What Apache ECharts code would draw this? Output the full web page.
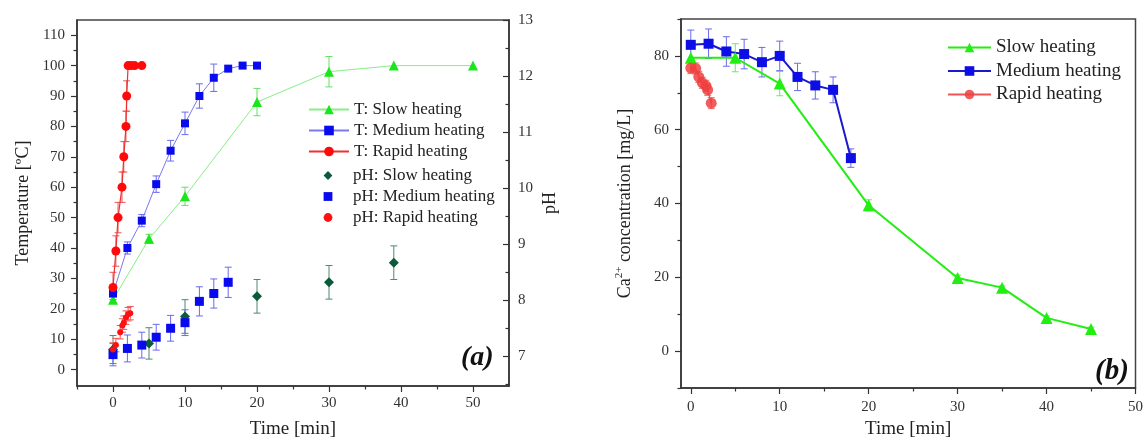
<!DOCTYPE html>
<html>
<head>
<meta charset="utf-8">
<script src="https://cdn.jsdelivr.net/npm/echarts@6/dist/echarts.min.js"></script>
<style>
  html, body { margin: 0; background: #fff; }
  #main { width: 1146px; height: 444px; }
</style>
</head>
<body>
<div id="main"></div>
<script>
// (a) temperature vs time
const tSlowX = [0, 5, 10, 20, 30, 39, 50];
const tSlowY = [23, 43, 57, 88, 98, 100, 100];
const tSlowErr = [0, 1.5, 3, 4.5, 5, 0, 0];
const tMedX = [0, 2, 4, 6, 8, 10, 12, 14, 16, 18, 20];
const tMedY = [25, 40, 49, 61, 72, 81, 90, 96, 99, 100, 100];
const tMedErr = [2, 2, 2, 2.7, 3.4, 3.7, 4, 4.5, 0, 0, 0];
const tRapX = [0, 0.4, 0.7, 1.25, 1.5, 1.8, 1.9, 2.1, 2.5, 3.0, 4.0];
const tRapY = [27, 39, 50, 60, 70, 80, 90, 100, 100, 100, 100];
const tRapErr = [5, 5, 5, 5, 5, 5, 5, 0, 0, 0, 0];

// (a) pH vs time
const phSlowX = [0, 5, 10, 20, 30, 39];
const phSlowY = [7.12, 7.23, 7.71, 8.07, 8.32, 8.67];
const phSlowErr = [0.25, 0.28, 0.3, 0.3, 0.3, 0.3];
const phMedX = [0, 2, 4, 6, 8, 10, 12, 14, 16];
const phMedY = [7.03, 7.14, 7.2, 7.34, 7.5, 7.6, 7.98, 8.12, 8.32];
const phMedErr = [0.2, 0.24, 0.23, 0.23, 0.23, 0.23, 0.26, 0.26, 0.27];
const phRapX = [0, 0.4, 1.0, 1.3, 1.5, 1.8, 2.1, 2.4];
const phRapY = [7.12, 7.2, 7.43, 7.55, 7.6, 7.69, 7.75, 7.77];
const phRapErr = [0.12, 0.12, 0.12, 0.12, 0.12, 0.12, 0.12, 0.12];

// (b) Ca2+ vs time
const caSlowX = [0, 5, 10, 20, 30, 35, 40, 45];
const caSlowY = [79.5, 79.5, 72.5, 39.5, 19.8, 17.2, 9, 6];
const caSlowErr = [0, 3.8, 3.3, 1.5, 0.8, 0.5, 0.5, 0.5];
const caMedX = [0, 2, 4, 6, 8, 10, 12, 14, 16, 18];
const caMedY = [83, 83.3, 81.2, 80.5, 78.3, 80, 74.3, 72, 70.8, 52.3];
const caMedErr = [4, 4, 4, 4, 4, 4, 3.7, 3.7, 3.5, 2.5];
const caRapX = [0, 0.55, 0.9, 1.3, 1.7, 1.9, 2.3];
const caRapY = [76.7, 76.6, 74.3, 72.7, 71.9, 70.8, 67.2];
const caRapErr = [1.5, 1.5, 1.5, 1.5, 1.5, 1.5, 1.5];

// ticks
const timeTicksA = [0, 10, 20, 30, 40, 50];
const timeMinorA = [-5, 5, 15, 25, 35, 45];
const tempTicks = [0, 10, 20, 30, 40, 50, 60, 70, 80, 90, 100, 110];
const tempMinor = [5, 15, 25, 35, 45, 55, 65, 75, 85, 95, 105];
const phTicks = [7, 8, 9, 10, 11, 12, 13];
const phMinor = [6.5, 7.5, 8.5, 9.5, 10.5, 11.5, 12.5];
const timeTicksB = [0, 10, 20, 30, 40, 50];
const timeMinorB = [5, 15, 25, 35, 45];
const caTicks = [0, 20, 40, 60, 80];
const caMinor = [-10, 10, 30, 50, 70, 90];

const FONT = '"Liberation Serif", "Times New Roman", serif';
const AX = '#333';

function pairs(xs, ys) { return xs.map((x, i) => [x, ys[i]]); }
function errs(xs, ys, es) {
  return xs.map((x, i) => [x, ys[i] - es[i], ys[i] + es[i]]).filter((d, i) => es[i] > 0);
}

function errorBars(data, color, xi, yi) {
  return {
    type: 'custom', xAxisIndex: xi, yAxisIndex: yi, silent: true, z: 1,
    encode: { x: 0, y: [1, 2] },
    data: data,
    renderItem: function (params, api) {
      const top = api.coord([api.value(0), api.value(2)]);
      const bot = api.coord([api.value(0), api.value(1)]);
      const w = 3.5;
      const st = { stroke: color, lineWidth: 1 };
      return {
        type: 'group', children: [
          { type: 'line', shape: { x1: top[0], y1: top[1], x2: bot[0], y2: bot[1] }, style: st },
          { type: 'line', shape: { x1: top[0] - w, y1: top[1], x2: top[0] + w, y2: top[1] }, style: st },
          { type: 'line', shape: { x1: bot[0] - w, y1: bot[1], x2: bot[0] + w, y2: bot[1] }, style: st }
        ]
      };
    }
  };
}

function majorAxis(grid, min, max, ticks, pos, extra) {
  return Object.assign({
    gridIndex: grid, type: 'value', min: min, max: max, position: pos,
    axisLine: { show: true, onZero: false, lineStyle: { color: AX, width: 1.5 } },
    axisTick: { show: true, customValues: ticks, length: 6, lineStyle: { color: AX, width: 1.2 } },
    axisLabel: { customValues: ticks, color: '#333', fontSize: 15, fontFamily: FONT },
    splitLine: { show: false }
  }, extra || {});
}
function minorAxis(grid, min, max, ticks, pos, inside) {
  return {
    gridIndex: grid, type: 'value', min: min, max: max, position: pos,
    axisLine: { show: false, onZero: false },
    axisTick: { show: true, inside: !!inside, customValues: ticks, length: 3.5, lineStyle: { color: AX, width: 1.2 } },
    axisLabel: { show: false },
    splitLine: { show: false }
  };
}

const chart = echarts.init(document.getElementById('main'));

const option = {
  animation: false,
  backgroundColor: '#fff',
  textStyle: { fontFamily: FONT },
  grid: [
    { left: 77, top: 20, width: 432, height: 367, show: true, borderColor: '#444', borderWidth: 1.5 },
    { left: 681, top: 19, width: 458, height: 369, show: true, borderColor: '#444', borderWidth: 1.5 }
  ],
  xAxis: [
    majorAxis(0, -5, 55, timeTicksA, 'bottom', {
      axisLabel: { customValues: timeTicksA, color: '#333', fontSize: 15, fontFamily: FONT, margin: 10 },
      name: 'Time [min]', nameLocation: 'middle', nameGap: 34,
      nameTextStyle: { fontSize: 19, color: '#222', fontFamily: FONT }
    }),
    minorAxis(0, -5, 55, timeMinorA, 'bottom'),
    majorAxis(1, -1.1, 50, timeTicksB, 'bottom', {
      axisLabel: { customValues: timeTicksB, color: '#333', fontSize: 15, fontFamily: FONT, margin: 12 },
      name: 'Time [min]', nameLocation: 'middle', nameGap: 27,
      nameTextStyle: { fontSize: 19, color: '#222', fontFamily: FONT }
    }),
    minorAxis(1, -1.1, 50, timeMinorB, 'bottom')
  ],
  yAxis: [
    majorAxis(0, -5.4, 115, tempTicks, 'left', {
      axisLabel: { customValues: tempTicks, color: '#333', fontSize: 15, fontFamily: FONT, margin: 12 },
      name: 'Temperature [ºC]', nameLocation: 'middle', nameGap: 45, nameRotate: 90,
      nameTextStyle: { fontSize: 18, color: '#222', fontFamily: FONT }
    }),
    minorAxis(0, -5.4, 115, tempMinor, 'left'),
    majorAxis(0, 6.47, 13, phTicks, 'right', {
      axisTick: { show: true, inside: true, customValues: phTicks, length: 6, lineStyle: { color: AX, width: 1.2 } },
      axisLabel: { customValues: phTicks, color: '#333', fontSize: 15, fontFamily: FONT, margin: 9 },
      name: 'pH', nameLocation: 'middle', nameGap: 32, nameRotate: 90,
      nameTextStyle: { fontSize: 18, color: '#222', fontFamily: FONT }
    }),
    minorAxis(0, 6.47, 13, phMinor, 'right', true),
    majorAxis(1, -10, 90, caTicks, 'left', {
      axisLabel: { customValues: caTicks, color: '#333', fontSize: 15, fontFamily: FONT, margin: 12 },
      name: '{b|Ca}{s|2+}{b| concentration [mg/L]}', nameLocation: 'middle', nameGap: 45, nameRotate: 90,
      nameTextStyle: {
        color: '#222', fontFamily: FONT,
        rich: {
          b: { fontSize: 18, lineHeight: 22, color: '#222', fontFamily: FONT },
          s: { fontSize: 11, lineHeight: 22, verticalAlign: 'top', color: '#222', fontFamily: FONT }
        }
      }
    }),
    minorAxis(1, -10, 90, caMinor, 'left')
  ],
  legend: [
    {
      data: ['T: Slow heating', 'T: Medium heating', 'T: Rapid heating'],
      orient: 'vertical', left: 308, top: 101, padding: 0, itemWidth: 40, itemHeight: 12, itemGap: 4,
      textStyle: { fontSize: 17, lineHeight: 17, color: '#222', fontFamily: FONT }
    },
    {
      data: ['pH: Slow heating', 'pH: Medium heating', 'pH: Rapid heating'],
      orient: 'vertical', left: 308, top: 167, padding: 0, itemWidth: 40, itemHeight: 11, itemGap: 4,
      textStyle: { fontSize: 17, lineHeight: 17, color: '#222', fontFamily: FONT }
    },
    {
      data: ['Slow heating', 'Medium heating', 'Rapid heating'],
      orient: 'vertical', left: 947, top: 38, padding: 0, itemWidth: 43, itemHeight: 12, itemGap: 4.5,
      textStyle: { fontSize: 19, lineHeight: 19, color: '#222', fontFamily: FONT }
    }
  ],
  graphic: [
    { type: 'text', left: 461, top: 344, style: { text: '(a)', font: 'italic bold 28px ' + FONT, fill: '#111' } },
    { type: 'text', left: 1095, top: 357, style: { text: '(b)', font: 'italic bold 29px ' + FONT, fill: '#111' } }
  ],
  series: [
    // error bars (a)
    errorBars(errs(tSlowX, tSlowY, tSlowErr), '#66dd66', 0, 0),
    errorBars(errs(tMedX, tMedY, tMedErr), '#6a6aee', 0, 0),
    errorBars(errs(tRapX, tRapY, tRapErr), '#ee5555', 0, 0),
    errorBars(errs(phSlowX, phSlowY, phSlowErr), '#4f8a6c', 0, 2),
    errorBars(errs(phMedX, phMedY, phMedErr), '#6a6aee', 0, 2),
    errorBars(errs(phRapX, phRapY, phRapErr), '#ee5555', 0, 2),
    {
      name: 'T: Slow heating', type: 'line', xAxisIndex: 0, yAxisIndex: 0, z: 3,
      data: pairs(tSlowX, tSlowY), symbol: 'triangle', symbolSize: 10,
      lineStyle: { color: '#88ee88', width: 1 }, itemStyle: { color: '#1be51b' }
    },
    {
      name: 'T: Medium heating', type: 'line', xAxisIndex: 0, yAxisIndex: 0, z: 3,
      data: pairs(tMedX, tMedY), symbol: 'rect', symbolSize: 8,
      lineStyle: { color: '#7a7aee', width: 1 }, itemStyle: { color: '#0a0aee' }
    },
    {
      name: 'T: Rapid heating', type: 'line', xAxisIndex: 0, yAxisIndex: 0, z: 3,
      data: pairs(tRapX, tRapY), symbol: 'circle', symbolSize: 9,
      lineStyle: { color: '#ee3030', width: 1.2 }, itemStyle: { color: '#ff0a0a' }
    },
    // pH points: line series with hidden line so the legend shows only the marker
    {
      name: 'pH: Slow heating', type: 'line', xAxisIndex: 0, yAxisIndex: 2, z: 3,
      data: pairs(phSlowX, phSlowY), symbol: 'diamond', symbolSize: 10, showAllSymbol: true,
      lineStyle: { width: 0, opacity: 0 }, itemStyle: { color: '#0b5a3a' }
    },
    {
      name: 'pH: Medium heating', type: 'line', xAxisIndex: 0, yAxisIndex: 2, z: 3,
      data: pairs(phMedX, phMedY), symbol: 'rect', symbolSize: 9, showAllSymbol: true,
      lineStyle: { width: 0, opacity: 0 }, itemStyle: { color: '#0a0aee' }
    },
    {
      name: 'pH: Rapid heating', type: 'line', xAxisIndex: 0, yAxisIndex: 2, z: 3,
      data: pairs(phRapX, phRapY), symbol: 'circle', symbolSize: 6, showAllSymbol: true,
      lineStyle: { width: 0, opacity: 0 }, itemStyle: { color: '#ff1010' }
    },
    // (b)
    errorBars(errs(caSlowX, caSlowY, caSlowErr), '#66ee66', 2, 4),
    errorBars(errs(caMedX, caMedY, caMedErr), '#6a6aee', 2, 4),
    errorBars(errs(caRapX, caRapY, caRapErr), '#ee7777', 2, 4),
    {
      name: 'Slow heating', type: 'line', xAxisIndex: 2, yAxisIndex: 4, z: 3,
      data: pairs(caSlowX, caSlowY), symbol: 'triangle', symbolSize: 12,
      lineStyle: { color: '#22ee11', width: 2 }, itemStyle: { color: '#22ee11' }
    },
    {
      name: 'Medium heating', type: 'line', xAxisIndex: 2, yAxisIndex: 4, z: 3,
      data: pairs(caMedX, caMedY), symbol: 'rect', symbolSize: 10,
      lineStyle: { color: '#1a1acc', width: 2 }, itemStyle: { color: '#0d0de6' }
    },
    {
      name: 'Rapid heating', type: 'line', xAxisIndex: 2, yAxisIndex: 4, z: 3,
      data: pairs(caRapX, caRapY), symbol: 'circle', symbolSize: 11, showAllSymbol: true,
      lineStyle: { width: 1.5, color: '#ee5555' }, itemStyle: { color: '#ee4040', opacity: 0.85 }
    }
  ]
};

chart.setOption(option);
</script>
</body>
</html>
